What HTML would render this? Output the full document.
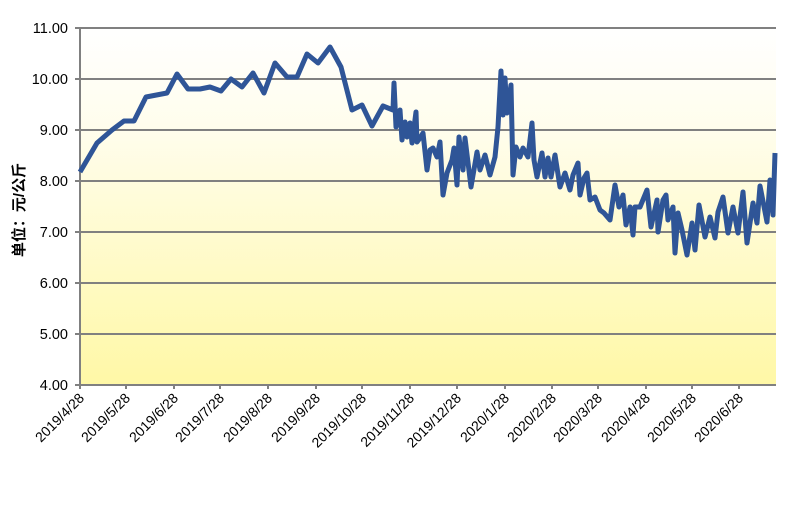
<!DOCTYPE html>
<html><head><meta charset="utf-8"><style>body{margin:0;background:#fff}</style></head><body>
<svg width="798" height="500" viewBox="0 0 798 500" xmlns="http://www.w3.org/2000/svg" font-family="Liberation Sans, Noto Sans CJK SC, sans-serif">
<defs><linearGradient id="g" x1="0" y1="0" x2="0" y2="1"><stop offset="0" stop-color="#ffffff"/><stop offset="0.3" stop-color="#fffdeb"/><stop offset="1" stop-color="#fff8a6"/></linearGradient></defs>
<rect x="80" y="28" width="696" height="357" fill="url(#g)"/>
<g stroke="#808080" stroke-width="2">
<line x1="80" y1="28" x2="776" y2="28"/><line x1="80" y1="79" x2="776" y2="79"/><line x1="80" y1="130" x2="776" y2="130"/><line x1="80" y1="181" x2="776" y2="181"/><line x1="80" y1="232" x2="776" y2="232"/><line x1="80" y1="283" x2="776" y2="283"/><line x1="80" y1="334" x2="776" y2="334"/><line x1="80" y1="385" x2="776" y2="385"/>
<line x1="80" y1="28" x2="80" y2="389"/>
<path d="M126,385v4M174,385v4M220,385v4M268,385v4M316,385v4M362,385v4M410,385v4M457,385v4M505,385v4M552,385v4M598,385v4M646,385v4M692,385v4M739,385v4M75,28h5M75,79h5M75,130h5M75,181h5M75,232h5M75,283h5M75,334h5M75,385h5"/>
</g>
<g font-size="14.5" fill="#000" text-anchor="end">
<text x="68" y="33">11.00</text><text x="68" y="84">10.00</text><text x="68" y="135">9.00</text><text x="68" y="186">8.00</text><text x="68" y="237">7.00</text><text x="68" y="288">6.00</text><text x="68" y="339">5.00</text><text x="68" y="390">4.00</text>
</g>
<text transform="translate(24,210) rotate(-90)" font-size="15" font-weight="bold" text-anchor="middle">单位：元/公斤</text>
<g font-size="14" text-anchor="end">
<text transform="translate(85,399) rotate(-45)">2019/4/28</text>
<text transform="translate(131,399) rotate(-45)">2019/5/28</text>
<text transform="translate(179,399) rotate(-45)">2019/6/28</text>
<text transform="translate(225,399) rotate(-45)">2019/7/28</text>
<text transform="translate(273,399) rotate(-45)">2019/8/28</text>
<text transform="translate(321,399) rotate(-45)">2019/9/28</text>
<text transform="translate(367,399) rotate(-45)">2019/10/28</text>
<text transform="translate(415,399) rotate(-45)">2019/11/28</text>
<text transform="translate(462,399) rotate(-45)">2019/12/28</text>
<text transform="translate(510,399) rotate(-45)">2020/1/28</text>
<text transform="translate(557,399) rotate(-45)">2020/2/28</text>
<text transform="translate(603,399) rotate(-45)">2020/3/28</text>
<text transform="translate(651,399) rotate(-45)">2020/4/28</text>
<text transform="translate(697,399) rotate(-45)">2020/5/28</text>
<text transform="translate(744,399) rotate(-45)">2020/6/28</text>
</g>
<polyline fill="none" stroke="#2f5597" stroke-width="5" stroke-linejoin="round" points="80,172 97,143 112,130 124,121 134,121 146,97 167,93 177,74 188,89 200,89 210,87 221,91 231,79 242,87 253,73 264,93 275,63 287,77 297,77 307,54 318,63 330,47 341,67 352,110 362,105 372,126 383,106 393,110 394,83 396,127 400,110 402,140 405,122 407,137 410,123 412,143 416,112 417,142 420,138 423,133 427,170 430,150 433,148 437,157 440,142 443,195 447,173 452,160 454,148 457,185 459,137 463,170 465,138 471,187 477,152 480,170 485,155 490,175 495,157 498,127 501,71 503,115 505,78 507,113 511,85 513,175 516,147 520,157 523,148 528,157 532,123 534,160 537,177 542,153 545,177 548,158 551,177 555,155 560,187 565,173 570,190 573,175 578,163 580,195 584,178 587,173 590,200 595,197 600,210 604,213 610,220 615,185 619,207 623,195 626,225 630,207 633,235 635,207 640,207 647,190 651,227 657,200 658,232 663,200 666,195 668,220 673,207 675,253 678,213 682,230 687,255 692,223 695,250 699,205 705,237 710,217 715,238 718,212 723,197 728,233 733,207 738,233 743,192 747,243 753,203 757,223 760,186 767,222 770,180 773,215 775,153"/>
</svg>
</body></html>
